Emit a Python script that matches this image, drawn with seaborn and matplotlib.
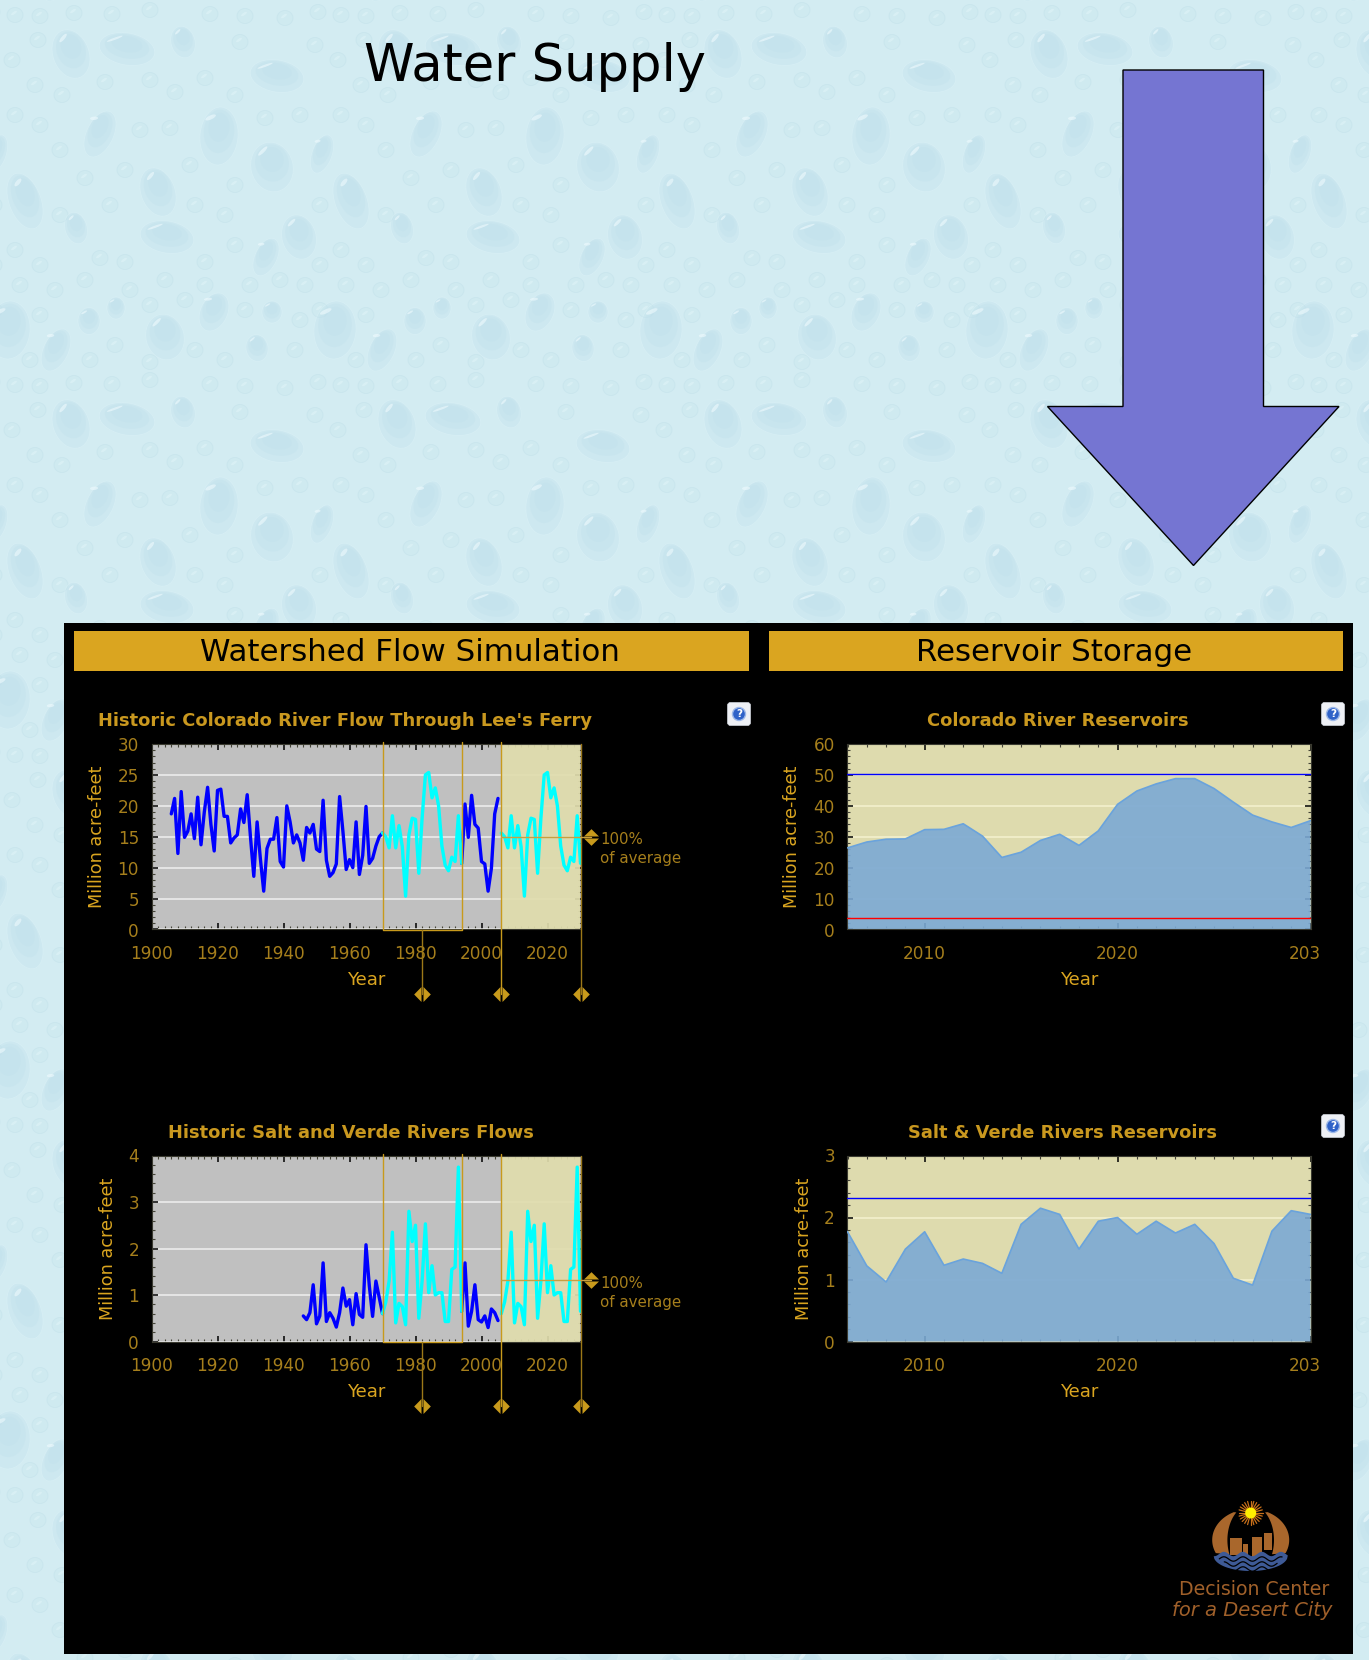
import numpy as np
import matplotlib
matplotlib.use("Agg")
import matplotlib.pyplot as plt
import seaborn as sns
from matplotlib.patches import Ellipse, Rectangle, Polygon, FancyBboxPatch, Circle
from matplotlib.collections import PatchCollection
from matplotlib.path import Path
from matplotlib.ticker import MultipleLocator, FixedLocator, FixedFormatter
from matplotlib.transforms import blended_transform_factory, ScaledTranslation

# ---------------- data ----------------
colorado_years_a = list(range(1906, 1971))
colorado_flow_a = [18.7, 21.2, 12.3, 22.3, 14.9, 15.9, 18.7, 14.7, 21.4, 13.7, 19.0, 23.0, 17.0, 12.7, 22.5, 22.7,
                   18.3, 18.3, 14.0, 14.8, 15.3, 19.5, 17.3, 21.8, 14.9, 8.6, 17.4, 11.4, 6.2, 13.1, 14.6, 14.6,
                   18.1, 11.0, 10.1, 20.0, 17.4, 14.0, 15.3, 14.0, 11.2, 16.5, 15.6, 17.0, 13.0, 12.6, 20.9, 11.2,
                   8.6, 9.2, 10.6, 21.5, 15.9, 9.7, 11.3, 10.0, 17.4, 8.9, 12.0, 19.9, 10.7, 11.5, 13.5, 15.0, 15.6]
colorado_window = [15.6, 15.0, 13.2, 18.4, 13.2, 16.8, 13.4, 5.4, 15.3, 18.0, 17.8, 9.1, 18.0, 25.0, 25.4, 21.3,
                   22.9, 20.0, 13.5, 10.4, 9.5, 11.7, 11.0, 18.4, 10.7]
colorado_years_b = list(range(1994, 2006))
colorado_flow_b = [10.7, 20.3, 14.9, 21.7, 17.0, 16.4, 11.0, 10.6, 6.2, 9.9, 18.7, 21.2]

salt_years_a = list(range(1946, 1971))
salt_flow_a = [0.55, 0.47, 0.62, 1.22, 0.38, 0.55, 1.69, 0.43, 0.62, 0.50, 0.31, 0.62, 1.15, 0.76, 0.90, 0.36,
               1.03, 0.58, 0.52, 2.08, 1.20, 0.54, 1.30, 0.95, 0.60]
salt_window = [0.60, 0.85, 1.30, 2.35, 0.40, 0.82, 0.75, 0.36, 2.80, 2.15, 2.50, 0.50, 1.30, 2.53, 1.05, 1.63,
               1.00, 1.05, 1.05, 0.43, 0.43, 1.55, 1.60, 3.75, 0.65]
salt_years_b = list(range(1994, 2006))
salt_flow_b = [0.65, 1.69, 0.33, 0.65, 1.22, 0.47, 0.42, 0.55, 0.30, 0.70, 0.62, 0.45]

window_years = list(range(1970, 1995))
future_years = list(range(2006, 2031))
storage_years = list(range(2006, 2031))
colorado_storage = [26.4, 28.3, 29.2, 29.3, 32.3, 32.4, 34.2, 30.2, 23.3, 25.0, 28.8, 30.8, 27.2, 31.9, 40.5, 44.8,
                    47.1, 48.8, 48.8, 45.6, 41.2, 37.0, 34.8, 33.0, 35.2]
salt_storage = [1.77, 1.22, 0.96, 1.49, 1.77, 1.23, 1.33, 1.26, 1.10, 1.89, 2.15, 2.05, 1.49, 1.94, 2.00, 1.73,
                1.94, 1.75, 1.89, 1.58, 1.02, 0.91, 1.78, 2.11, 2.05]
colorado_capacity, colorado_dead = 50.3, 3.6
salt_capacity = 2.32
colorado_avg, salt_avg = 14.9, 1.32

# decorative droplets of the repeating wallpaper tile (x, y, w, h, tilt)
big_drops = [(71, 54, 36, 50, -20), (127, 49, 56, 32, 10), (277, 76, 54, 32, 10), (183, 42, 24, 32, -15),
             (219, 136, 38, 58, 5), (100, 134, 27, 49, 25), (272, 167, 42, 50, -15), (25, 201, 32, 58, -20),
             (322, 154, 20, 40, 20), (158, 192, 34, 50, -20), (167, 237, 54, 32, 10), (299, 237, 34, 45, -15),
             (266, 257, 22, 40, 25), (76, 228, 22, 32, -15), (165, 337, 38, 46, -15), (9, 330, 42, 58, 5),
             (56, 350, 25, 45, 25), (214, 312, 27, 40, 25), (257, 348, 22, 27, -10), (116, 308, 18, 22, 0),
             (89, 321, 22, 27, 0), (272, 312, 20, 22, 0)]
small_drops = [(15, 15), (40, 16), (74, 13), (112, 14), (150, 10), (210, 14), (245, 16), (285, 18), (318, 12),
               (12, 60), (38, 40), (105, 82), (35, 85), (62, 95), (150, 80), (205, 78), (240, 42), (315, 45),
               (235, 95), (175, 92), (300, 115), (15, 115), (40, 125), (140, 130), (170, 128), (265, 118),
               (60, 150), (125, 170), (190, 165), (235, 185), (85, 178), (110, 205), (60, 215), (195, 205),
               (225, 215), (320, 205), (15, 250), (40, 265), (100, 258), (125, 262), (205, 262), (235, 245),
               (305, 285), (20, 285), (55, 290), (85, 280), (130, 290), (165, 280), (205, 285), (250, 285),
               (280, 280), (320, 265), (40, 315), (150, 305), (185, 300), (245, 310), (300, 320), (115, 345),
               (195, 350), (295, 350), (320, 310), (90, 360), (30, 360), (225, 360), (150, 362)]

# ---------------- setup ----------------
sns.set_theme(style="ticks")
plt.rcParams["font.family"] = ["DejaVu Sans"]
W, H = 1369, 1660
fig = plt.figure(figsize=(W / 100, H / 100), dpi=100, facecolor="#d3ecf2")

GOLD = "#daa520"
TICKGOLD = "#a67f1c"
TITLEGOLD = "#c9981f"
GREY = "#c0c0c0"
YELLOW = "#dedbae"


def add_ax(l, t, r, b, **kw):
    return fig.add_axes([l / W, 1 - b / H, (r - l) / W, (b - t) / H], **kw)


# background
bg = add_ax(0, 0, W, H, zorder=-2)
bg.set_xlim(0, W)
bg.set_ylim(H, 0)
bg.axis("off")
patches, cols, edges = [], [], []
TX, TY = 326, 370


def put(e, fc, ec=(0, 0, 0, 0)):
    patches.append(e)
    cols.append(fc)
    edges.append(ec)


for ix in range(-1, 5):
    for iy in range(-1, 5):
        ox, oy = ix * TX, iy * TY
        for (x, y) in small_drops:
            cx, cy = x + ox, y + oy
            put(Ellipse((cx, cy), 16, 15), (0.76, 0.89, 0.92, 0.22), (0.74, 0.87, 0.91, 0.4))
            put(Ellipse((cx - 1, cy - 2), 7, 2.5, angle=-35), (0.92, 0.98, 0.99, 0.35))
        for (x, y, w, h, a) in big_drops:
            cx, cy = x + ox, y + oy
            put(Ellipse((cx, cy), w, h, angle=a), (0.77, 0.89, 0.93, 0.40), (0.88, 0.96, 0.98, 0.4))
            put(Ellipse((cx, cy - h * 0.08), w * 0.8, h * 0.75, angle=a), (0.74, 0.87, 0.92, 0.28))
            put(Ellipse((cx, cy - h * 0.15), w * 0.55, h * 0.5, angle=a), (0.72, 0.86, 0.92, 0.18))
            put(Ellipse((cx - w * 0.22, cy - h * 0.32), w * 0.3, h * 0.07, angle=a - 30), (0.95, 0.99, 1.0, 0.55))
bg.add_collection(PatchCollection(patches, facecolors=cols, edgecolors=edges, linewidths=0.6))

# overlay, in pixel coordinates
ov = add_ax(0, 0, W, H, zorder=0)
ov.set_xlim(0, W)
ov.set_ylim(H, 0)
ov.axis("off")
ov.patch.set_alpha(0)

ov.text(535, 67, "Water Supply", fontsize=36.8, color="black", ha="center", va="center")
ov.add_patch(Polygon([(1123, 70), (1263.5, 70), (1263.5, 406.5), (1339, 406.5), (1193.5, 565.5), (1047.5, 406.5),
                      (1123, 406.5)], closed=True, facecolor="#7575d2", edgecolor="black", lw=1))
ov.add_patch(Rectangle((63.5, 622.5), 1353 - 63.5, 1654 - 622.5, facecolor="black", edgecolor="none"))
ov.add_patch(Rectangle((74, 631), 674.5, 40, facecolor=GOLD, edgecolor="none"))
ov.add_patch(Rectangle((768.5, 631), 574, 40, facecolor=GOLD, edgecolor="none"))
ov.text(409.5, 652.5, "Watershed Flow Simulation", fontsize=22.2, color="black", ha="center", va="center")
ov.text(1054, 652.5, "Reservoir Storage", fontsize=22.2, color="black", ha="center", va="center")

for (tx, ty, s) in [(345, 721, "Historic Colorado River Flow Through Lee's Ferry"),
                    (351, 1133, "Historic Salt and Verde Rivers Flows"),
                    (1058, 721, "Colorado River Reservoirs"),
                    (1063, 1133, "Salt & Verde Rivers Reservoirs")]:
    ov.text(tx, ty, s, fontsize=12.9, fontweight="bold", color=TITLEGOLD, ha="center", va="center")

for (cx, cy) in [(739, 714), (1333, 714), (1333, 1126)]:
    ov.add_patch(FancyBboxPatch((cx - 10, cy - 10), 20, 20, boxstyle="round,pad=1.5,rounding_size=3",
                                facecolor="#eef0f5", edgecolor="#d0d4dc", lw=0.5))
    ov.add_patch(Circle((cx, cy), 6.5, facecolor="#2f62c8", edgecolor="#9db8e8", lw=1))
    ov.text(cx, cy, "?", fontsize=7.5, fontweight="bold", color="white", ha="center", va="center")

for (ya, yb, t) in [(839, 858, "100%"), (1283.5, 1302.5, "100%")]:
    ov.text(600, ya, t, fontsize=10.8, color=TICKGOLD, ha="left", va="center")
    ov.text(600, yb, "of average", fontsize=10.8, color=TICKGOLD, ha="left", va="center")

# logo
lx, ly = 1250.7, 1540
brown = "#a9672c"
blue = "#3e5a96"
for sign in (-1, 1):
    th = np.radians(np.linspace(-25, 64, 60))
    outer = np.c_[lx + sign * 38.5 * np.cos(th), ly - 31 * np.sin(th)]
    ti = np.radians(np.linspace(52, -24, 60))
    inner = np.c_[lx + sign * 23.3 * np.cos(ti), ly - 35 * np.sin(ti)]
    ov.add_patch(Polygon(np.r_[outer, inner], closed=True, facecolor=brown, edgecolor="none"))
for (bx, bt, bw, bb) in [(-21, 1538, 12, 1555), (-7.5, 1544, 4.5, 1557), (1, 1537, 10.5, 1557), (13.5, 1533, 7.5, 1550)]:
    ov.add_patch(Rectangle((lx + bx, bt), bw, bb - bt, facecolor=brown, edgecolor="none"))
wx = np.linspace(-37, 37, 120)
top = ly + 14 + 2.2 * np.sin(wx * 0.33 + 1)
bot = ly + 16 + 15 * np.sqrt(np.clip(1 - (wx / 37) ** 2, 0, 1))
ov.add_patch(Polygon(np.r_[np.c_[lx + wx, top], np.c_[lx + wx[::-1], bot[::-1]]], closed=True,
                     facecolor=blue, edgecolor="none"))
for off in (5, 10, 15):
    ww = wx[np.abs(wx) < 36 - off * 0.9]
    ov.plot(lx + ww, ly + 14 + off + 2.2 * np.sin(ww * 0.33 + 1), color="black", lw=0.9)
for a in np.radians(np.arange(0, 360, 15)):
    ov.plot([lx + 5 * np.cos(a), lx + 12 * np.cos(a)], [1513 + 5 * np.sin(a), 1513 + 12 * np.sin(a)],
            color="#c8701a", lw=0.9)
ov.add_patch(Circle((lx, 1513), 5.5, facecolor="#ffee00", edgecolor="none", zorder=5))
ov.text(1254.5, 1589, "Decision Center", fontsize=13.6, color="#a0602a", ha="center", va="center")
ov.text(1252.5, 1610, "for a Desert City", fontsize=14, style="italic", color="#a0602a", ha="center", va="center")

L_H = Path([(-1, 0), (-0.12, 0.9), (-0.12, -0.9), (-1, 0), (1, 0), (0.12, 0.9), (0.12, -0.9), (1, 0)],
           [1, 2, 2, 79, 1, 2, 2, 79])
V_H = Path([(0, 1), (0.9, 0.12), (-0.9, 0.12), (0, 1), (0, -1), (0.9, -0.12), (-0.9, -0.12), (0, -1)],
           [1, 2, 2, 79, 1, 2, 2, 79])


def style_axes(ax, xmaj, xmin, ymaj, ymin, grid):
    for s in ax.spines.values():
        s.set_color("#3a3a30")
        s.set_linewidth(0.8)
    ax.xaxis.set_major_locator(MultipleLocator(xmaj))
    ax.xaxis.set_minor_locator(MultipleLocator(xmin))
    ax.yaxis.set_major_locator(MultipleLocator(ymaj))
    ax.yaxis.set_minor_locator(MultipleLocator(ymin))
    ax.tick_params(which="major", direction="in", length=4, width=1.1, color="#000000", top=True, right=True,
                   labelcolor=TICKGOLD, labelsize=12.2)
    ax.tick_params(axis="x", which="major", pad=11)
    ax.tick_params(axis="y", which="major", pad=9)
    ax.tick_params(which="minor", direction="in", length=2, width=0.8, color="#444438", top=True, right=True)
    ax.grid(True, axis="y", which="major", color=grid, lw=1.1, zorder=1)
    ax.set_axisbelow(True)


def labels(ax, ylab_px, l, r, top, bottom):
    ax.set_xlabel("Year", color=GOLD, fontsize=13, va="center")
    ax.xaxis.set_label_coords(0.5, -(980 - 929.6) / (bottom - top))
    ax.set_ylabel("Million acre-feet", color=GOLD, fontsize=12.7, va="center")
    ax.yaxis.set_label_coords((ylab_px - l) / (r - l), 0.5)


def flow_chart(top, bottom, ymax, ymaj, ymin, ylab_px, ya, fa, window, yb, fb, avg):
    l, r = 151.5, 580.5
    ax = add_ax(l, top, r, bottom, zorder=2, facecolor=GREY)
    ax.set_xlim(1900, 2030)
    ax.set_ylim(0, ymax)
    style_axes(ax, 20, 2, ymaj, ymin, "#f0f0f0")
    ax.axvspan(2006, 2030, facecolor="#e0ddad", alpha=0.92, edgecolor="none", zorder=1.5)
    kw = dict(lw=2.4, errorbar=None, solid_joinstyle="round", ax=ax)
    sns.lineplot(x=ya, y=fa, color="#0000ff", zorder=3, **kw)
    sns.lineplot(x=yb, y=fb, color="#0000ff", zorder=3, **kw)
    sns.lineplot(x=window_years, y=window, color="#00ffff", zorder=3.2, **kw)
    sns.lineplot(x=future_years, y=window, color="#00ffff", zorder=3.2, **kw)
    labels(ax, ylab_px, l, r, top, bottom)

    tr = blended_transform_factory(ax.transData, ax.transAxes)
    hy = -(994.5 - 929.6) / (bottom - top)
    gl = dict(color="#c89a1c", lw=1.0, clip_on=False, zorder=4, transform=tr)
    # selection window
    ax.plot([1970, 1970, 1994, 1994], [1.01, -0.004, -0.004, 1.01], **gl)
    ax.plot([1982, 1982], [-0.004, hy], color="#9c7818", lw=1.0, clip_on=False, zorder=4, transform=tr)
    ax.plot([2006, 2006], [1.01, hy], **gl)
    ax.plot([2030, 2030], [1.0, hy], color="#9c7818", lw=1.0, clip_on=False, zorder=4, transform=tr)
    for hx in (1982, 2006, 2030):
        ax.plot([hx], [hy], marker=L_H, ms=12, color="#c89a1c", mew=0, clip_on=False, zorder=5, transform=tr)
    # average line and its handle
    tr2 = blended_transform_factory(ax.transAxes, ax.transData)
    hx2 = (590.5 - l) / (r - l)
    ax.plot([(2006 - 1900) / 130, hx2], [avg, avg], color="#c8a040", lw=1.0, clip_on=False, zorder=4, transform=tr2)
    ax.plot([hx2], [avg], marker=V_H, ms=12, color="#c89a1c", mew=0, clip_on=False, zorder=5, transform=tr2)
    return ax


def storage_chart(top, bottom, ymax, ymaj, ymin, ylab_px, values, capacity, dead):
    l, r = 847.5, 1310.5
    ax = add_ax(l, top, r, bottom, zorder=2, facecolor=YELLOW)
    ax.set_xlim(2006, 2030)
    ax.set_ylim(0, ymax)
    style_axes(ax, 10, 1, ymaj, ymin, "#f5f2cf")
    ax.fill_between(storage_years, values, 0, facecolor="#7ba9d4", alpha=0.9, edgecolor="none", zorder=2)
    sns.lineplot(x=storage_years, y=values, ax=ax, color="#6aa3dc", lw=1.2, errorbar=None, zorder=3)
    ax.axhline(capacity, color="#0000ff", lw=1.0, zorder=4)
    if dead is not None:
        ax.axhline(dead, color="#ff0000", lw=1.0, zorder=4)
    ax.xaxis.set_major_locator(FixedLocator([2010, 2020, 2030]))
    ax.xaxis.set_major_formatter(FixedFormatter(["2010", "2020", "203"]))
    labels(ax, ylab_px, l, r, top, bottom)
    lab = ax.get_xticklabels()[2]
    lab.set_transform(lab.get_transform() + ScaledTranslation(-5.5 / 100, 0, fig.dpi_scale_trans))
    return ax


flow_chart(744, 929.5, 30, 5, 1, 97.5, colorado_years_a, colorado_flow_a, colorado_window,
           colorado_years_b, colorado_flow_b, colorado_avg)
flow_chart(1155.5, 1341.5, 4, 1, 0.2, 108, salt_years_a, salt_flow_a, salt_window,
           salt_years_b, salt_flow_b, salt_avg)
storage_chart(744, 929.5, 60, 10, 2, 792, colorado_storage, colorado_capacity, colorado_dead)
storage_chart(1155.5, 1341.5, 3, 1, 0.2, 804, salt_storage, salt_capacity, None)

fig.savefig("out.png", dpi=100, facecolor=fig.get_facecolor())
